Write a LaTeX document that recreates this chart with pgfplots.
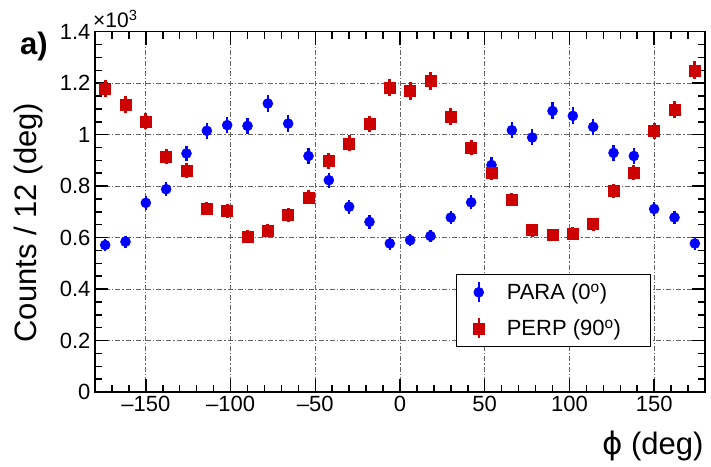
\documentclass[border=0pt]{standalone}
\usepackage{fontspec}
\setmainfont{Liberation Sans}
\newfontfamily\dejavu{DejaVu Sans}
\usepackage{pgfplots}
\usepackage{pgfplotstable}
\pgfplotsset{compat=1.18}

\definecolor{paraBlue}{RGB}{0,0,255}
\definecolor{perpRed}{RGB}{204,0,0}
\definecolor{gridGray}{RGB}{100,100,100}

\newcommand{\tickfont}{\fontsize{22}{24}\selectfont}
\newcommand{\labfont}{\fontsize{31}{33}\selectfont}
\newcommand{\legtext}[1]{\makebox[142pt][l]{#1}}

% phi (deg), counts in units of 10^3, Poisson error
\pgfplotstableread{
x y ey
-174 0.571 0.024
-162 0.584 0.024
-150 0.735 0.027
-138 0.788 0.028
-126 0.927 0.030
-114 1.015 0.032
-102 1.037 0.032
-90 1.034 0.032
-78 1.121 0.033
-66 1.043 0.032
-54 0.917 0.030
-42 0.823 0.029
-30 0.720 0.027
-18 0.661 0.026
-6 0.577 0.024
6 0.590 0.024
18 0.606 0.025
30 0.678 0.026
42 0.737 0.027
54 0.882 0.030
66 1.017 0.032
78 0.989 0.031
90 1.092 0.033
102 1.073 0.033
114 1.030 0.032
126 0.929 0.030
138 0.917 0.030
150 0.711 0.027
162 0.678 0.026
174 0.577 0.024
}\paradata

\pgfplotstableread{
x y ey
-174 1.179 0.034
-162 1.118 0.033
-150 1.052 0.032
-138 0.914 0.030
-126 0.859 0.029
-114 0.713 0.027
-102 0.703 0.027
-90 0.605 0.025
-78 0.628 0.025
-66 0.687 0.026
-54 0.756 0.027
-42 0.897 0.030
-30 0.966 0.031
-18 1.041 0.032
-6 1.183 0.034
6 1.170 0.034
18 1.208 0.035
30 1.069 0.033
42 0.950 0.031
54 0.853 0.029
66 0.748 0.027
78 0.629 0.025
90 0.610 0.025
102 0.616 0.025
114 0.652 0.026
126 0.781 0.028
138 0.852 0.029
150 1.015 0.032
162 1.098 0.033
174 1.250 0.035
}\perpdata

\begin{document}
\begin{tikzpicture}
\begin{axis}[
    name=ax,
    scale only axis, width=610pt, height=360.3pt,
    xmin=-180, xmax=180, ymin=0, ymax=1.4,
    axis line style={line width=1.5pt},
    xtick={-150,-100,-50,0,50,100,150},
    xticklabels={–150,–100,–50,0,50,100,150},
    ytick={0,0.2,0.4,0.6,0.8,1,1.2,1.4},
    yticklabels={0,0.2,0.4,0.6,0.8,1,1.2,1.4},
    minor xtick={-180,-170,...,180},
    minor ytick={0,0.05,...,1.4},
    tick align=inside,
    major tick length=13pt, minor tick length=7pt,
    every tick/.style={black, line width=1.5pt},
    ticklabel style={font=\tickfont},
    xticklabel style={yshift=-1pt},
    yticklabel style={xshift=-1pt},
    grid=major,
    major grid style={gridGray, line width=1pt, dash pattern=on 5pt off 2pt on 1.2pt off 2pt},
    xlabel={{\dejavu ϕ} (deg)},
    xlabel style={font=\labfont, at={(rel axis cs:1,0)}, anchor=base east, yshift=-63pt, xshift=2pt},
    ylabel={Counts / 12 (deg)},
    ylabel style={font=\labfont, at={(rel axis cs:0,0.47)}, anchor=north, yshift=84pt},
    clip=false,
    legend style={at={(rel axis cs:0.592,0.125)}, anchor=south west,
        draw=black, line width=1.3pt, font=\tickfont,
        inner xsep=0pt, inner ysep=0pt, row sep=0pt, column sep=0pt,
        cells={anchor=west, inner sep=0pt, draw=none}},
    legend image code/.code={
        \path[draw=none] (0pt,-18pt) rectangle (48pt,18pt);
        \draw[#1, line width=2.5pt] (22pt,-10pt) -- (22pt,10pt);
        \draw[#1] plot coordinates {(22pt,0pt)};
    },
]
\addplot[paraBlue, only marks, mark=*, mark size=5pt, mark options={line width=0.5pt},
    error bars/.cd, y dir=both, y explicit, error mark=none,
    error bar style={line width=2.5pt, paraBlue}]
    table[x=x, y=y, y error=ey] {\paradata};
\addlegendentry{\legtext{PARA (0\textsuperscript{o})}}
\addplot[perpRed, only marks, mark=square*, mark size=5.5pt, mark options={line width=0.5pt},
    error bars/.cd, y dir=both, y explicit, error mark=none,
    error bar style={line width=3pt, perpRed}]
    table[x=x, y=y, y error=ey] {\perpdata};
\addlegendentry{\legtext{PERP (90\textsuperscript{o})}}
\node[anchor=base west, font=\fontsize{21}{23}\selectfont, inner sep=0pt]
    at (rel axis cs:0,1) [xshift=-2pt, yshift=3.7pt] {×10\textsuperscript{3}};
\node[font=\fontsize{31}{33}\selectfont\bfseries, inner sep=0pt]
    at (rel axis cs:0,1) [xshift=-61pt, yshift=-15pt] {a)};
\end{axis}
\path ([shift={(-95pt,-75pt)}]ax.south west) rectangle ([shift={(6pt,31.7pt)}]ax.north east);
\end{tikzpicture}
\end{document}
